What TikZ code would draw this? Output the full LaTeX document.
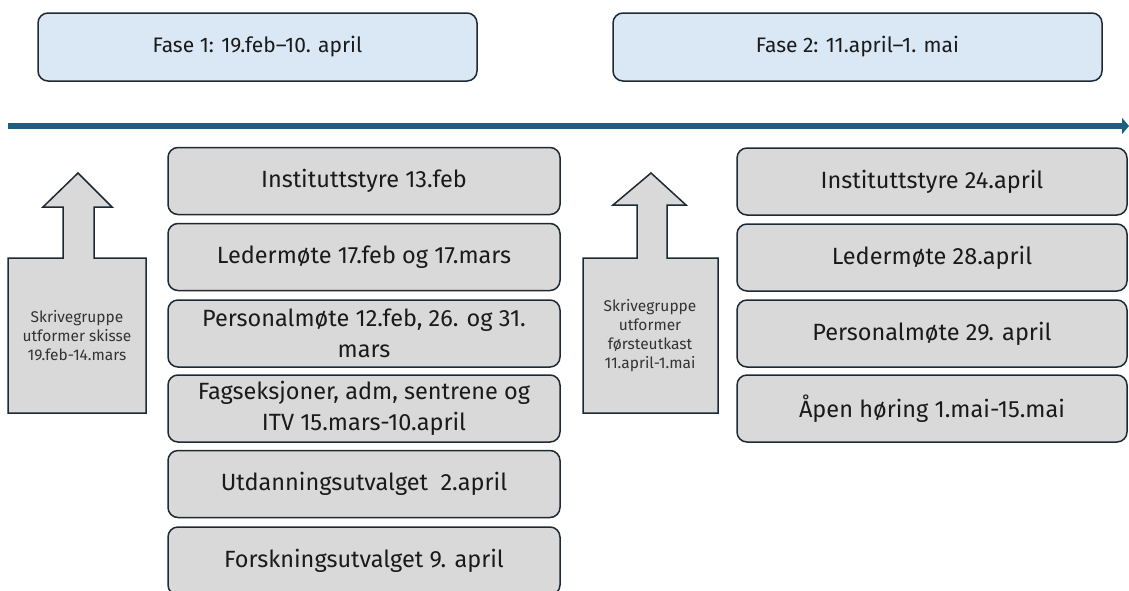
\documentclass[tikz,border=0pt]{standalone}
\usepackage{fontspec}
\setmainfont{Fira Sans}
\usetikzlibrary{arrows.meta}
\definecolor{phasefill}{HTML}{DAE7F4}
\definecolor{boxfill}{HTML}{D9D9D9}
\definecolor{edge}{HTML}{1E2A33}
\definecolor{timeline}{HTML}{1D5F7E}
\definecolor{ink}{HTML}{1A1A1A}
\definecolor{softink}{HTML}{333333}
\tikzset{
  phase/.style={draw=edge, fill=phasefill, line width=1.5pt, rounded corners=10pt,
    minimum height=68pt, text=ink, font=\fontsize{21}{26}\selectfont, inner sep=0pt},
  event/.style={draw=edge, fill=boxfill, line width=1.5pt, rounded corners=10pt,
    minimum height=67pt, text=ink, align=center, inner sep=0pt,
    font=\fontsize{23.5}{31}\selectfont},
  callout/.style={draw=edge, fill=boxfill, line width=1.5pt, line join=miter},
  callouttext/.style={text=softink, align=center, font=\fontsize{15.5}{19}\selectfont, inner sep=0pt}
}
\begin{document}
\begin{tikzpicture}[x=1pt, y=-1pt]
\useasboundingbox (0,0) rectangle (1129,590);

% phase headers
\node[phase, minimum width=439pt] (fase1) at (257.5,47) {Fase 1: 19.feb–10. april};
\node[phase, minimum width=489pt] (fase2) at (857.5,47) {Fase 2: 11.april–1. mai};

% timeline
\coordinate (tstart) at (8,126);
\coordinate (tend) at (1129,126);
\draw[timeline, line width=6pt, -{Triangle[length=7pt, width=16pt]}] (tstart) -- (tend);

% phase 1 events
\node[event, minimum width=392pt] (e1) at (364,181) {Instituttstyre 13.feb};
\node[event, minimum width=392pt] (e2) at (364,257) {Ledermøte 17.feb og 17.mars};
\node[event, minimum width=392pt] (e3) at (364,333.5) {Personalmøte 12.feb, 26. og 31.\\mars};
\node[event, minimum width=392pt] (e4) at (364,408.5) {Fagseksjoner, adm, sentrene og\\ITV 15.mars-10.april};
\node[event, minimum width=392pt] (e5) at (364,484) {Utdanningsutvalget~ 2.april};
\node[event, minimum width=392pt, minimum height=68pt] (e6) at (364,561) {Forskningsutvalget 9. april};

% phase 2 events
\node[event, minimum width=390pt] (f1) at (932,181.5) {Instituttstyre 24.april};
\node[event, minimum width=390pt] (f2) at (932,257.5) {Ledermøte 28.april};
\node[event, minimum width=390pt] (f3) at (932,333.5) {Personalmøte 29. april};
\node[event, minimum width=390pt] (f4) at (932,408.5) {Åpen høring 1.mai-15.mai};

% writing group, phase 1
\draw[callout] (8,413) -- (8,258) -- (63,258) -- (63,207) -- (43,207) -- (78,173)
  -- (112,207) -- (94,207) -- (94,258) -- (146,258) -- (146,413) -- cycle;
\node[callouttext] (w1) at (77,336) {Skrivegruppe\\utformer skisse\\19.feb-14.mars};

% writing group, phase 2
\draw[callout] (583,413) -- (583,258) -- (637,258) -- (637,205) -- (613,205) -- (651,173)
  -- (686,205) -- (667,205) -- (667,258) -- (718,258) -- (718,413) -- cycle;
\node[callouttext] (w2) at (650,336) {Skrivegruppe\\utformer\\førsteutkast\\11.april-1.mai};
\end{tikzpicture}
\end{document}
